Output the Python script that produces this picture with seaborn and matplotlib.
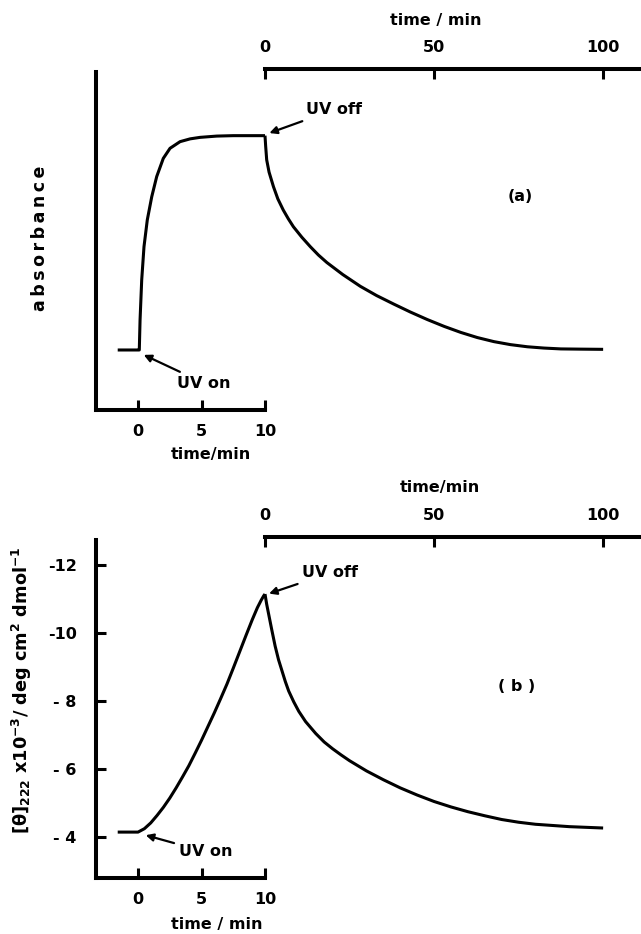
import numpy as np
import pandas as pd
import matplotlib
matplotlib.use("Agg")
import matplotlib.pyplot as plt
import seaborn as sns

# ---------------- data ----------------
# panel (a): absorbance (arbitrary units: 0 = dark baseline, 1 = photostationary plateau)
a_irr_time = [-1.6, 0.0, 0.10, 0.16, 0.29, 0.47, 0.73, 1.08, 1.47, 1.99, 2.52, 3.31, 4.1, 4.88, 6.2, 7.5, 10.0]
a_irr_abs = [0.0, 0.0, 0.0, 0.14, 0.327, 0.482, 0.607, 0.715, 0.809, 0.894, 0.941, 0.972, 0.985, 0.992, 0.998, 1.0, 1.0]
a_dark_time = [0.0, 0.2, 0.5, 1.2, 2.5, 3.8, 5.4, 6.9, 8.4, 10.9, 13.4, 15.8, 18.3, 23.0, 28.2, 33.0, 38.1, 43.0, 48.0, 53.0, 57.9, 62.8, 67.7, 72.6, 77.6, 82.5, 87.5, 93.0, 100.0]
a_dark_abs = [1.0, 0.95, 0.887, 0.83, 0.762, 0.705, 0.653, 0.612, 0.575, 0.526, 0.482, 0.443, 0.408, 0.352, 0.297, 0.254, 0.214, 0.177, 0.142, 0.11, 0.082, 0.058, 0.039, 0.025, 0.015, 0.009, 0.005, 0.004, 0.003]

# panel (b): [theta]222 x 10^-3 / deg cm2 dmol-1
b_irr_time = [-1.6, 0.0, 0.5, 1.0, 1.5, 2.0, 2.5, 3.0, 3.5, 4.0, 4.5, 5.0, 5.5, 6.0, 6.5, 7.0, 7.5, 8.0, 8.5, 9.0, 9.4, 9.7, 9.9, 10.0]
b_irr_theta = [-4.15, -4.15, -4.25, -4.42, -4.64, -4.88, -5.15, -5.45, -5.77, -6.1, -6.47, -6.85, -7.25, -7.65, -8.07, -8.5, -8.97, -9.45, -9.93, -10.4, -10.75, -10.97, -11.1, -11.15]
b_dark_time = [0.0, 0.5, 1.0, 1.5, 2.0, 3.0, 4.0, 5.0, 6.0, 7.0, 8.5, 10.0, 12.0, 15.0, 17.5, 20.0, 22.5, 25.0, 30.0, 35.0, 40.0, 45.0, 50.0, 55.0, 60.0, 65.0, 70.0, 75.0, 80.0, 90.0, 100.0]
b_dark_theta = [-11.15, -10.85, -10.6, -10.35, -10.1, -9.62, -9.22, -8.9, -8.58, -8.3, -7.98, -7.7, -7.4, -7.05, -6.8, -6.6, -6.42, -6.25, -5.95, -5.69, -5.45, -5.24, -5.05, -4.89, -4.75, -4.63, -4.52, -4.44, -4.38, -4.31, -4.27]

irr_ticks = [0, 5, 10]
dark_ticks = [0, 50, 100]
b_yticks = [-12, -10, -8, -6, -4]
b_yticklabels = ["-12", "-10", "- 8", "- 6", "- 4"]

# ---------------- style ----------------
sns.set_theme(style="white")
plt.rcParams["font.family"] = ["DejaVu Sans"]
plt.rcParams["font.weight"] = "bold"
plt.rcParams["mathtext.default"] = "regular"
for k in ("text.color", "axes.labelcolor", "xtick.color", "ytick.color", "axes.edgecolor"):
    plt.rcParams[k] = "black"

W, H = 641, 934
fig = plt.figure(figsize=(W / 100, H / 100), dpi=100)
fig.patch.set_facecolor("white")

SPINE_LW = 2.9
LINE_LW = 2.2
TICK_FS = 11.5
LABEL_FS = 11.5


def px_axes(x0, y0, x1, y1):
    ax = fig.add_axes([x0 / W, 1 - y1 / H, (x1 - x0) / W, (y1 - y0) / H])
    ax.set_facecolor("none")
    return ax


def figtext(x, y, s, **kw):
    fig.text(x / W, 1 - y / H, s, ha=kw.pop("ha", "center"), va=kw.pop("va", "center"),
             color="black", **kw)


def style_left(ax, with_yticks):
    for s in ("top", "right"):
        ax.spines[s].set_visible(False)
    for s in ("left", "bottom"):
        ax.spines[s].set_linewidth(SPINE_LW)
        ax.spines[s].set_color("black")
    ax.set_xticks(irr_ticks)
    ax.set_xticklabels([str(t) for t in irr_ticks])
    ax.tick_params(axis="x", direction="in", length=7, width=2.2, pad=10,
                   labelsize=TICK_FS, colors="black", bottom=True)
    if not with_yticks:
        ax.set_yticks([])
    ax.grid(False)


def style_right(ax):
    for s in ("left", "right", "bottom"):
        ax.spines[s].set_visible(False)
    ax.spines["top"].set_linewidth(SPINE_LW)
    ax.spines["top"].set_color("black")
    ax.xaxis.tick_top()
    ax.set_xticks(dark_ticks)
    ax.set_xticklabels([str(t) for t in dark_ticks])
    ax.tick_params(axis="x", direction="in", length=7, width=2.2, pad=10,
                   labelsize=TICK_FS, colors="black", top=True, bottom=False)
    ax.set_yticks([])
    ax.grid(False)


def line(ax, x, y):
    df = pd.DataFrame({"t": x, "v": y})
    sns.lineplot(data=df, x="t", y="v", ax=ax, color="black", lw=LINE_LW,
                 sort=False, estimator=None)
    for l in ax.get_lines():
        l.set_clip_on(False)
        l.set_solid_capstyle("butt")
        l.set_solid_joinstyle("round")
    ax.set_xlabel("")
    ax.set_ylabel("")


arrow_kw = dict(arrowstyle="-|>", color="black", lw=1.6, mutation_scale=11,
                shrinkA=1, shrinkB=1)

# ---------------- panel (a) ----------------
ya0, ya1 = -0.28, 1.297
axL = px_axes(96, 72, 265, 410)
axR = px_axes(265, 69, 641, 410)
line(axL, a_irr_time, a_irr_abs)
line(axR, a_dark_time, a_dark_abs)
axL.set_xlim(-3.31, 10)
axL.set_ylim(ya0, ya1)
axR.set_xlim(0, 111.2)
axR.set_ylim(ya0, ya0 + (ya1 - ya0) * (410 - 69) / (410 - 72))
style_left(axL, with_yticks=False)
style_right(axR)

axL.annotate("UV on", xy=(0.35, -0.02), xytext=(3.1, -0.155), ha="left", va="center",
             fontsize=LABEL_FS, arrowprops=arrow_kw, annotation_clip=False)
axR.annotate("UV off", xy=(0.9, 1.01), xytext=(12.0, 1.12), ha="left", va="center",
             fontsize=LABEL_FS, arrowprops=arrow_kw, annotation_clip=False)
axR.text(75.5, 0.714, "(a)", ha="center", va="center", fontsize=LABEL_FS)

figtext(436, 21, "time / min", fontsize=LABEL_FS)
figtext(211, 455, "time/min", fontsize=LABEL_FS)
figtext(40, 238, "\u2009".join("absorbance"), fontsize=12.5, rotation=90)

# ---------------- panel (b) ----------------
yb_bot, yb_top = -2.80, -12.74
bxL = px_axes(96, 540, 265, 878)
bxR = px_axes(265, 537, 641, 878)
line(bxL, b_irr_time, b_irr_theta)
line(bxR, b_dark_time, b_dark_theta)
bxL.set_xlim(-3.31, 10)
bxL.set_ylim(yb_bot, yb_top)
bxR.set_xlim(0, 111.2)
bxR.set_ylim(yb_bot, yb_bot + (yb_top - yb_bot) * (878 - 537) / (878 - 540))
style_left(bxL, with_yticks=True)
bxL.set_yticks(b_yticks)
bxL.set_yticklabels(b_yticklabels)
bxL.tick_params(axis="y", direction="in", length=7, width=2.2, pad=14,
                labelsize=TICK_FS, colors="black", left=True)
style_right(bxR)

bxL.annotate("UV on", xy=(0.5, -4.07), xytext=(3.2, -3.57), ha="left", va="center",
             fontsize=LABEL_FS, arrowprops=arrow_kw, annotation_clip=False)
bxR.annotate("UV off", xy=(0.8, -11.15), xytext=(11.0, -11.77), ha="left", va="center",
             fontsize=LABEL_FS, arrowprops=arrow_kw, annotation_clip=False)
bxR.text(74.5, -8.42, "( b )", ha="center", va="center", fontsize=LABEL_FS)

figtext(440, 488, "time/min", fontsize=LABEL_FS)
figtext(217, 924, "time / min", fontsize=LABEL_FS)
figtext(22, 690, r"[$\theta$]$_{222}$ x10$^{-3}$/ deg cm$^{2}$ dmol$^{-1}$",
        fontsize=12.8, rotation=90)

fig.savefig("out.png", dpi=100, facecolor="white")
